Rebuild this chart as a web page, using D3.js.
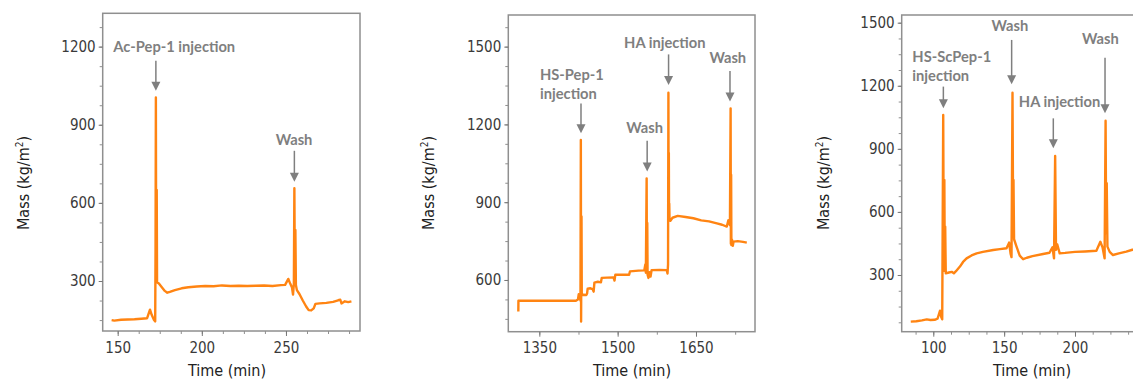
<!DOCTYPE html>
<meta charset="utf-8">
<script src="https://d3js.org/d3.v7.min.js"></script>
<style>
  body { margin: 0; background: #fff; }
  svg { display: block; }
</style>
<div id="chart"></div>
<script>

// panel 1 : Ac-Pep-1
var p1Time = [146.4, 148, 152, 156, 160, 164, 167.5, 169.2, 170.2, 171.6, 172.3, 172.5, 172.7, 172.9, 173.2, 173.4,
  174.5, 176, 178, 179.5, 181, 184, 188, 192, 197, 202, 207, 212, 217, 222, 227, 232, 237, 242, 247, 249.5,
  251.4, 252.5, 253.6, 254.2, 254.7, 255.0, 255.3, 255.6, 255.9, 256.5, 258, 260, 262, 263.5, 265, 266.5,
  267.5, 270, 274, 278, 281, 282.3, 283, 285, 287, 288.9];
var p1Mass = [150, 148, 151, 152, 153, 155, 157, 190, 170, 150, 145, 420, 1005, 300, 650, 295,
  290, 278, 262, 255, 258, 265, 272, 276, 279, 281, 280, 283, 281, 282, 281, 282, 283, 281, 284, 285,
  308, 290, 275, 248, 290, 656, 300, 496, 285, 265, 250, 225, 202, 188, 187, 195,
  212, 214, 216, 220, 226, 228, 214, 222, 219, 222];

// panel 2 : HS-Pep-1 then HA
var p2Time = [1309.8, 1310, 1330, 1360, 1390, 1420, 1424, 1425.5, 1427.5, 1428.8, 1429.5, 1430.0, 1430.8, 1431.3,
  1434, 1440, 1441.5, 1442.5, 1448, 1452, 1454, 1455.5, 1462, 1468, 1469.5, 1480, 1492, 1494, 1495.5, 1510,
  1522, 1523.5, 1540, 1551, 1553, 1554, 1555.5, 1556, 1556.7, 1557.3, 1559, 1561, 1563, 1565, 1580, 1594,
  1595.5, 1596.5, 1597.2, 1597.6, 1598.0, 1598.4, 1598.8, 1599.3, 1601, 1605, 1615, 1630, 1645, 1660, 1675,
  1690, 1700, 1709, 1712, 1715, 1716.3, 1716.8, 1717.3, 1717.8, 1719, 1720.5, 1722, 1730, 1740, 1747.3];
var p2Mass = [478, 520, 520, 520, 520, 520, 525, 545, 540, 520, 1140, 440, 845, 542,
  543, 542, 548, 566, 568, 565, 555, 590, 593, 591, 608, 609, 610, 598, 620, 620,
  620, 633, 636, 637, 660, 628, 992, 640, 820, 620, 608, 630, 613, 638, 639, 638,
  625, 660, 1322, 840, 1090, 830, 895, 838, 828, 840, 847, 843, 838, 830, 826,
  818, 813, 806, 830, 812, 1262, 740, 1006, 735, 755, 732, 748, 750, 747, 744];

// panel 3 : HS-ScPep-1 then HA
var p3Time = [84.1, 88, 92, 95.4, 98, 101, 103, 104.7, 105.6, 106.3, 107.0, 107.4, 107.8, 108.1, 108.4, 108.8,
  111, 113, 114.5, 116, 118.8, 121, 123.5, 127, 130.6, 135, 142.3, 147, 151.7, 153.5, 154.6, 155.2, 155.9,
  156.3, 156.6, 157.0, 158.5, 161, 163.4, 166, 170, 177.5, 182, 184.1, 185.2, 186.0, 186.6, 187.5, 189.2,
  193, 200, 207, 215.1, 217.9, 219.5, 220.9, 221.6, 222.0, 222.4, 222.9, 224.5, 226.8, 231, 236.2, 240.5,
  246, 252];
var p3Mass = [78, 80, 84, 89, 86, 87, 92, 130, 100, 89, 1061, 320, 752, 330, 530, 308,
  312, 315, 308, 318, 340, 362, 379, 393, 403, 410, 419, 423, 427, 454, 400, 385, 1167,
  600, 752, 470, 440, 392, 375, 382, 390, 400, 406, 432, 379, 866, 420, 445, 403,
  405, 410, 412, 415, 458, 430, 379, 1034, 500, 737, 435, 410, 395, 403, 411, 420,
  426, 430];

// tick labels
var p1XTicks = [150, 200, 250];
var p1YTicks = [300, 600, 900, 1200];
var p2XTicks = [1350, 1500, 1650];
var p2YTicks = [600, 900, 1200, 1500];
var p3XTicks = [100, 150, 200];
var p3YTicks = [300, 600, 900, 1200, 1500];

// annotations: label lines, label x / baseline (data units), arrow x, arrow top, arrow tip
var p1Notes = [
  {lines: ["Ac-Pep-1 injection"], lx: 147.4, ly: 1181, anchor: "start", ax: 172.7, ay0: 1146, ay1: 1031},
  {lines: ["Wash"], lx: 254.8, ly: 822, anchor: "middle", ax: 255.0, ay0: 800, ay1: 681}
];
var p2Notes = [
  {lines: ["HS-Pep-1", "injection"], lx: 1351.3, ly: 1371.5, anchor: "start", ax: 1429.8, ay0: 1281, ay1: 1166},
  {lines: ["Wash"], lx: 1551.8, ly: 1168, anchor: "middle", ax: 1556.5, ay0: 1137, ay1: 1018},
  {lines: ["HA injection"], lx: 1590.3, ly: 1494, anchor: "middle", ax: 1597.5, ay0: 1470, ay1: 1352},
  {lines: ["Wash"], lx: 1710.9, ly: 1436, anchor: "middle", ax: 1715.1, ay0: 1406, ay1: 1288}
];
var p3Notes = [
  {lines: ["HS-ScPep-1", "injection"], lx: 85.2, ly: 1314.5, anchor: "start", ax: 107.1, ay0: 1196, ay1: 1093},
  {lines: ["Wash"], lx: 154.1, ly: 1460, anchor: "middle", ax: 155.3, ay0: 1418, ay1: 1207},
  {lines: ["HA injection"], lx: 189.1, ly: 1100, anchor: "middle", ax: 184.7, ay0: 1045, ay1: 903},
  {lines: ["Wash"], lx: 217.9, ly: 1397, anchor: "middle", ax: 221.2, ay0: 1333, ay1: 1069}
];

var lineColor = "#ff8412";
var noteColor = "#7f7f7f";
var tickFont = "'DejaVu Sans Condensed', 'DejaVu Sans', sans-serif";
var noteFont = "Lato, 'Open Sans', sans-serif";

var svg = d3.select("#chart")
  .append("svg")
    .attr("width", 1133)
    .attr("height", 381);

function drawPanel(cfg) {
  var x = d3.scaleLinear().domain(cfg.xDomain).range([cfg.left, cfg.right]);
  var y = d3.scaleLinear().domain(cfg.yDomain).range([cfg.bottom, cfg.top]);
  var g = svg.append("g");

  // frame
  g.append("rect")
    .attr("x", cfg.left)
    .attr("y", cfg.top)
    .attr("width", cfg.right - cfg.left)
    .attr("height", cfg.bottom - cfg.top)
    .style("fill", "none")
    .style("stroke", "#8f8f8f")
    .style("stroke-width", 1.5);

  // minor ticks
  var xMinor = d3.range(Math.ceil(cfg.xDomain[0] / cfg.xMinorStep) * cfg.xMinorStep, cfg.xDomain[1], cfg.xMinorStep);
  var yMinor = d3.range(Math.ceil(cfg.yDomain[0] / cfg.yMinorStep) * cfg.yMinorStep, cfg.yDomain[1], cfg.yMinorStep);

  g.append("g")
    .attr("transform", "translate(0," + cfg.bottom + ")")
    .call(d3.axisBottom(x).tickValues(xMinor).tickSize(3).tickFormat(""))
    .call(function (a) { a.select(".domain").remove(); a.selectAll("line").attr("stroke", "#8f8f8f"); });
  g.append("g")
    .attr("transform", "translate(" + cfg.left + ",0)")
    .call(d3.axisLeft(y).tickValues(yMinor).tickSize(3).tickFormat(""))
    .call(function (a) { a.select(".domain").remove(); a.selectAll("line").attr("stroke", "#8f8f8f"); });

  // major ticks + labels
  g.append("g")
    .attr("transform", "translate(0," + cfg.bottom + ")")
    .call(d3.axisBottom(x).tickValues(cfg.xTicks).tickSize(5).tickPadding(6).tickFormat(d3.format("d")))
    .call(function (a) {
      a.select(".domain").remove();
      a.selectAll("line").attr("stroke", "#777");
      a.selectAll("text").style("font-family", tickFont).style("font-size", "15px").attr("fill", "#3a3a3a");
    });
  g.append("g")
    .attr("transform", "translate(" + cfg.left + ",0)")
    .call(d3.axisLeft(y).tickValues(cfg.yTicks).tickSize(4).tickPadding(3).tickFormat(d3.format("d")))
    .call(function (a) {
      a.select(".domain").remove();
      a.selectAll("line").attr("stroke", "#777");
      a.selectAll("text").style("font-family", tickFont).style("font-size", "15px").attr("fill", "#3a3a3a");
    });

  // axis titles
  g.append("text")
    .attr("x", cfg.xTitleX)
    .attr("y", 376)
    .attr("text-anchor", "middle")
    .style("font-family", tickFont)
    .style("font-size", "16px")
    .style("fill", "#222")
    .text("Time (min)");

  var yt = g.append("text")
    .attr("transform", "translate(" + cfg.yTitleX + ",183) rotate(-90)")
    .attr("text-anchor", "middle")
    .style("font-family", tickFont)
    .style("font-size", "16px")
    .style("fill", "#222");
  yt.append("tspan").text("Mass (kg/m");
  yt.append("tspan").attr("dy", -6).style("font-size", "10px").text("2");
  yt.append("tspan").attr("dy", 6).text(")");

  // trace
  var pts = cfg.time.map(function (t, i) { return [t, cfg.mass[i]]; });
  var line = d3.line()
    .x(function (d) { return x(d[0]); })
    .y(function (d) { return y(d[1]); });
  g.append("path")
    .datum(pts)
    .attr("d", line)
    .style("fill", "none")
    .style("stroke", lineColor)
    .style("stroke-width", 2.4)
    .style("stroke-linejoin", "round");

  // annotations
  cfg.notes.forEach(function (n) {
    var t = g.append("text")
      .attr("x", x(n.lx))
      .attr("y", y(n.ly))
      .attr("text-anchor", n.anchor)
      .style("font-family", noteFont)
      .style("font-weight", "bold")
      .style("font-size", "14.7px")
      .style("fill", noteColor);
    n.lines.forEach(function (s, i) {
      t.append("tspan").attr("x", x(n.lx)).attr("dy", i === 0 ? 0 : 19).text(s);
    });
    var ax = x(n.ax), top = y(n.ay0), tip = y(n.ay1);
    g.append("line")
      .attr("x1", ax).attr("x2", ax)
      .attr("y1", top).attr("y2", tip - 8)
      .style("stroke", noteColor)
      .style("stroke-width", 1.5);
    g.append("path")
      .attr("d", "M" + (ax - 4.5) + "," + (tip - 9) + "L" + (ax + 4.5) + "," + (tip - 9) + "L" + ax + "," + tip + "Z")
      .style("fill", noteColor);
  });
}

drawPanel({
  left: 102.7, right: 360, top: 13.3, bottom: 331,
  xDomain: [141.1, 294], yDomain: [108, 1328],
  xMinorStep: 12.5, yMinorStep: 75,
  xTicks: p1XTicks, yTicks: p1YTicks,
  time: p1Time, mass: p1Mass, notes: p1Notes,
  xTitleX: 227, yTitleX: 29
});
drawPanel({
  left: 508.3, right: 755, top: 15, bottom: 331.7,
  xDomain: [1290.6, 1763], yDomain: [400.5, 1622],
  xMinorStep: 75, yMinorStep: 75,
  xTicks: p2XTicks, yTicks: p2YTicks,
  time: p2Time, mass: p2Mass, notes: p2Notes,
  xTitleX: 632, yTitleX: 434
});
drawPanel({
  left: 901.7, right: 1160, top: 15, bottom: 331.7,
  xDomain: [77.7, 260], yDomain: [30.3, 1536.6],
  xMinorStep: 12.5, yMinorStep: 75,
  xTicks: p3XTicks, yTicks: p3YTicks,
  time: p3Time, mass: p3Mass, notes: p3Notes,
  xTitleX: 1032, yTitleX: 829
});

</script>
